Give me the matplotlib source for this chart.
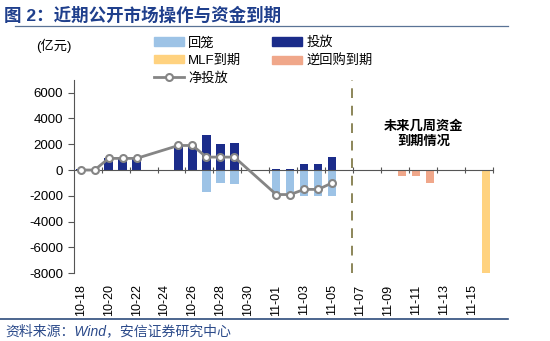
import numpy as np
import matplotlib
matplotlib.use("Agg")
import matplotlib.pyplot as plt
from matplotlib.lines import Line2D
from matplotlib.patches import Patch

plt.rcParams['font.family'] = ['Liberation Sans', 'Noto Sans CJK SC', 'DejaVu Sans']
plt.rcParams['axes.unicode_minus'] = False

dates = ['10-18', '10-19', '10-20', '10-21', '10-22', '10-23', '10-24', '10-25',
         '10-26', '10-27', '10-28', '10-29', '10-30', '10-31', '11-01', '11-02',
         '11-03', '11-04', '11-05', '11-06', '11-07', '11-08', '11-09', '11-10',
         '11-11', '11-12', '11-13', '11-14', '11-15', '11-16']

# 投放 (open market injection)
inject = [100, 100, 900, 900, 900, 0, 0, 1900, 1900, 2700, 2000, 2100, 0, 0,
          100, 100, 500, 500, 1000, 0, 0, 0, 0, 0, 0, 0, 0, 0, 0, 0]
# 回笼 (withdrawal)
withdraw = [0, 0, 0, 0, 0, 0, 0, 0, 0, -1700, -1000, -1100, 0, 0,
            -2000, -2000, -2000, -2000, -2000, 0, 0, 0, 0, 0, 0, 0, 0, 0, 0, 0]
# MLF到期
mlf = [0] * 29 + [-8000]
# 逆回购到期
repo = [0] * 21 + [-50, -50, -500, -500, -1000, 0, 0, 0, 0]
# 净投放 (None = no data)
net = [0, 0, 900, 900, 900, None, None, 1900, 1900, 1000, 1000, 1000, None, None,
       -1900, -1900, -1500, -1500, -1000] + [None] * 11

c_inject = '#1B2C8A'
c_withdraw = '#9DC3E6'
c_mlf = '#FFD27F'
c_repo = '#F0A78A'
c_net = '#858585'

x = np.arange(len(dates))
fig = plt.figure(figsize=(5.5, 3.41), dpi=100)
ax = fig.add_axes([0.134, 0.1985, 0.762, 0.568])

w = 0.6
ax.bar(x, inject, width=w, color=c_inject, zorder=2)
ax.bar(x, withdraw, width=w, color=c_withdraw, zorder=2)
ax.bar(x, mlf, width=w, color=c_mlf, zorder=2)
ax.bar(x, repo, width=w, color=c_repo, zorder=2)

net_arr = np.array([np.nan if v is None else v for v in net], dtype=float)
ok = ~np.isnan(net_arr)
ax.plot(x[ok], net_arr[ok], color=c_net, lw=2, marker='o', ms=5,
        mfc='white', mec=c_net, mew=1.5, zorder=4)

ax.axvline(19.45, color='#8C8659', lw=1.4, ls=(0, (5, 4)), zorder=1)
ax.text(24.55, 2800, '未来几周资金\n到期情况', ha='center', va='center',
        fontsize=9.5, fontweight='bold', linespacing=1.25)

ax.set_xlim(-0.5, 29.5)
ax.set_ylim(-8000, 7000)
ax.set_yticks(np.arange(-8000, 6001, 2000))
ax.tick_params(axis='y', labelsize=9.5, length=4, direction='out', color='#555555')

for s in ['top', 'right']:
    ax.spines[s].set_visible(False)
ax.spines['bottom'].set_position(('data', 0))
ax.spines['bottom'].set_color('#555555')
ax.spines['left'].set_color('#555555')
ax.set_xticks(np.arange(1.5, 30, 2))
ax.set_xticklabels([])
ax.tick_params(axis='x', direction='inout', length=5, color='#555555')

sec = ax.secondary_xaxis('bottom')
sec.set_xticks(x[::2])
sec.set_xticklabels(dates[::2])
sec.tick_params(axis='x', length=0, pad=8, labelsize=9, labelrotation=90)
sec.spines['bottom'].set_visible(False)

fig.text(0.13, 1 - 45.7 / 341, '(亿元)', ha='right', va='center', fontsize=9.5)

handles = [Patch(color=c_withdraw), Patch(color=c_mlf),
           Line2D([], [], color=c_net, lw=2, marker='o', ms=5, mfc='white', mec=c_net, mew=1.5),
           Patch(color=c_inject), Patch(color=c_repo)]
labels = ['回笼', 'MLF到期', '净投放', '投放', '逆回购到期']
fig.legend(handles, labels, ncol=2, loc='upper left', bbox_to_anchor=(0.268, 0.912),
           frameon=False, fontsize=9.5, handlelength=2.3, handleheight=0.6,
           handletextpad=0.3, columnspacing=2.3, labelspacing=0.4, borderpad=0)

fig.text(0.008, 1 - 15 / 341, '图 2：近期公开市场操作与资金到期', ha='left', va='center',
         fontsize=12.6, fontweight='bold', color='#1F3F8C')
fig.add_artist(Line2D([15 / 550, 508 / 550], [1 - 26 / 341] * 2, color='#5A7396', lw=0.9))
fig.add_artist(Line2D([0, 508 / 550], [1 - 319 / 341] * 2, color='#2E4C7C', lw=1.2))
fig.text(0.01, 1 - 331 / 341, '资料来源：Wind，安信证券研究中心', ha='left', va='center',
         fontsize=10, style='italic', color='#2B4A8A')

fig.savefig('out.png', dpi=100)
